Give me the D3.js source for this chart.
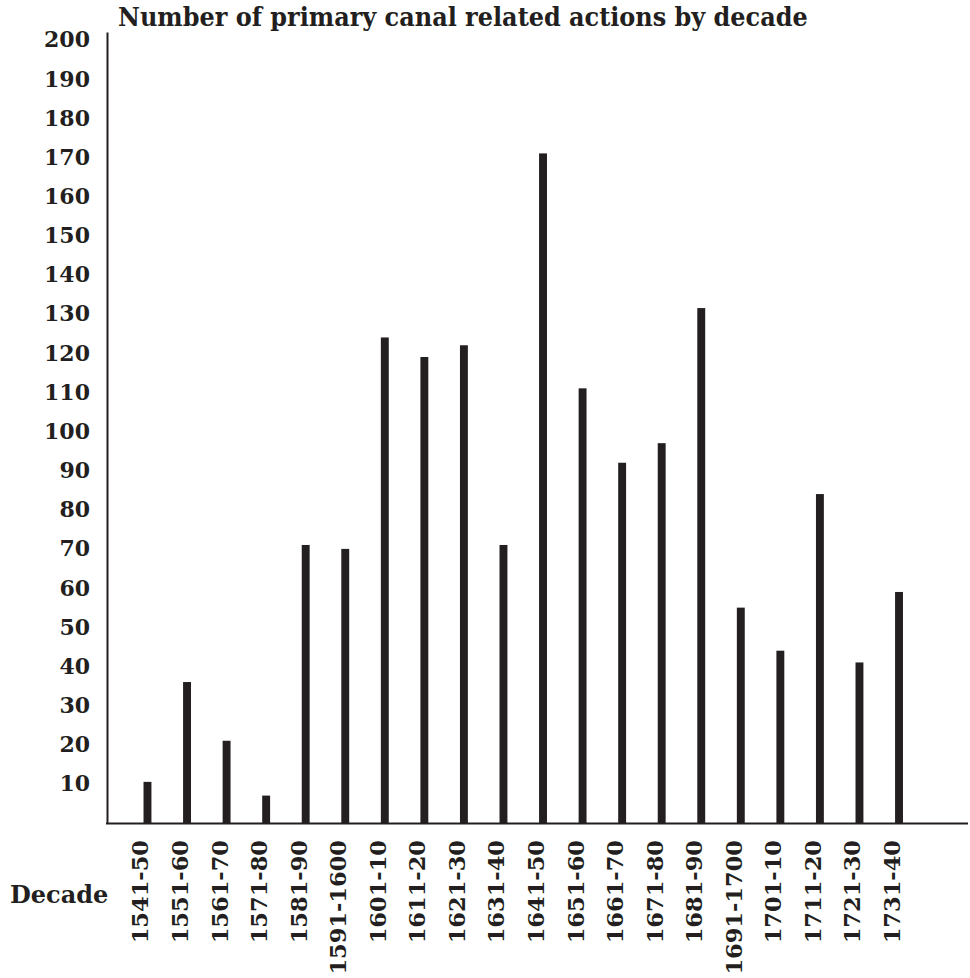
<!DOCTYPE html>
<html>
  <head>
    <title>Canal actions by decade</title>
    <script src="https://d3js.org/d3.v7.min.js"></script>
    <style>
      body { margin: 0; background: #fff; }
      text { font-family: "DejaVu Serif", Georgia, serif; font-weight: bold; fill: #231f20; }
    </style>
  </head>

  <body>
    <svg width="970" height="978"></svg>

    <script type="text/javascript">
      // decades on the x axis
      var decades = [
        "1541-50", "1551-60", "1561-70", "1571-80", "1581-90",
        "1591-1600", "1601-10", "1611-20", "1621-30", "1631-40",
        "1641-50", "1651-60", "1661-70", "1671-80", "1681-90",
        "1691-1700", "1701-10", "1711-20", "1721-30", "1731-40"
      ];
      // number of primary canal related actions
      var actions = [
        10.5, 36, 21, 7, 71,
        70, 124, 119, 122, 71,
        171, 111, 92, 97, 131.5,
        55, 44, 84, 41, 59
      ];
      // y tick labels
      var yTicks = [10, 20, 30, 40, 50, 60, 70, 80, 90, 100,
                    110, 120, 130, 140, 150, 160, 170, 180, 190, 200];

      var title = "Number of primary canal related actions by decade";
      var xTitle = "Decade";

      var ink = "#231f20";
      var svg = d3.select("svg");

      var data = decades.map(function (d, i) {
        return { decade: d, value: actions[i] };
      });

      var axisX = 107;
      var x = d3.scaleBand().domain(decades).range([127.7, 918.8])
        .paddingInner(0.8).paddingOuter(0.4);
      var y = d3.scaleLinear().domain([0, 202]).range([823, 32]);

      // Title, fitted to its width in the reference
      var t = svg.append("text")
        .attr("x", 118)
        .attr("y", 26)
        .style("font-family", "'DejaVu Serif Condensed', 'DejaVu Serif', serif")
        .style("font-size", "24px")
        .text(title);
      var len = t.node().getComputedTextLength();
      t.style("font-size", (24 * 690 / len) + "px");

      // Y axis
      var gy = svg.append("g")
        .attr("transform", "translate(" + axisX + ",0)")
        .call(d3.axisLeft(y).tickValues(yTicks).tickSize(0).tickPadding(17));
      gy.select(".domain").attr("stroke", ink).attr("stroke-width", 2);
      gy.selectAll(".tick text")
        .attr("fill", ink)
        .style("font-family", "'DejaVu Serif', serif")
        .style("font-weight", "bold")
        .style("font-size", "22px");

      // Bars
      svg.append("g")
        .selectAll("rect")
        .data(data)
        .enter()
        .append("rect")
        .attr("x", function (d) { return x(d.decade); })
        .attr("y", function (d) { return y(d.value); })
        .attr("width", x.bandwidth())
        .attr("height", function (d) { return y(0) - y(d.value); })
        .attr("fill", ink);

      // X axis line
      svg.append("line")
        .attr("x1", axisX - 1)
        .attr("x2", 968)
        .attr("y1", y(0) + 0.5)
        .attr("y2", y(0) + 0.5)
        .attr("stroke", ink)
        .attr("stroke-width", 2.2);

      // Rotated decade labels
      svg.append("g")
        .selectAll("text")
        .data(decades)
        .enter()
        .append("text")
        .attr("transform", function (d) {
          return "translate(" + (x(d) + x.bandwidth() / 2 + 1) + ",840) rotate(-90)";
        })
        .attr("text-anchor", "end")
        .style("font-size", "22.5px")
        .text(function (d) { return d; });

      svg.append("text")
        .attr("x", 10)
        .attr("y", 903)
        .style("font-size", "24px")
        .text(xTitle);
    </script>
  </body>
</html>
